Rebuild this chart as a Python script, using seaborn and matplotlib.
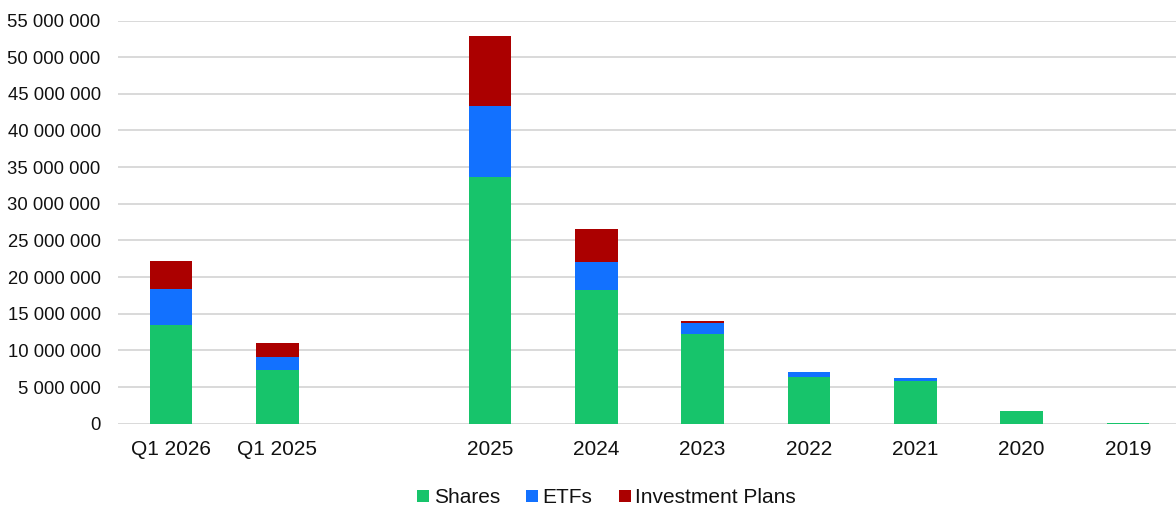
import matplotlib
matplotlib.use("Agg")
import matplotlib.pyplot as plt
from matplotlib.lines import Line2D
from matplotlib.ticker import FuncFormatter
import numpy as np
import pandas as pd
import seaborn as sns

# Periods (the blank entry separates the quarterly and yearly groups)
periods = ["Q1 2026", "Q1 2025", "", "2025", "2024", "2023", "2022", "2021", "2020", "2019"]
shares = [13.42e6, 7.28e6, 0, 33.66e6, 18.2e6, 12.24e6, 6.37e6, 5.87e6, 1.69e6, 0.1e6]
etfs = [4.91e6, 1.77e6, 0, 9.68e6, 3.86e6, 1.54e6, 0.68e6, 0.36e6, 0.0, 0.0]
plans = [3.91e6, 1.95e6, 0, 9.56e6, 4.5e6, 0.23e6, 0.0, 0.0, 0.0, 0.0]

series_names = ["Shares", "ETFs", "Investment Plans"]
colors = {"Shares": "#17C46B", "ETFs": "#1271FF", "Investment Plans": "#AB0000"}

df = pd.DataFrame({"period": periods, "Shares": shares, "ETFs": etfs,
                   "Investment Plans": plans})
df["top_shares"] = df["Shares"]
df["top_etfs"] = df["Shares"] + df["ETFs"]
df["top_plans"] = df["top_etfs"] + df["Investment Plans"]

sns.set_theme(style="white")
plt.rcParams["font.family"] = ["Liberation Sans", "DejaVu Sans"]

W, H = 1176, 509
fig = plt.figure(figsize=(W / 100, H / 100), dpi=100)
left, right, bottom, top = 118, 1181, 85.3, 488.5
ax = fig.add_axes([left / W, bottom / H, (right - left) / W, (top - bottom) / H])

# Stacked bars: draw cumulative totals from the tallest layer down
for col, name in [("top_plans", "Investment Plans"), ("top_etfs", "ETFs"),
                  ("top_shares", "Shares")]:
    sns.barplot(data=df, x="period", y=col, order=periods, color=colors[name],
                width=0.4, linewidth=0, saturation=1, errorbar=None, ax=ax,
                zorder=3)

text_color = "#111111"
ax.set_ylim(0, 55e6)
ax.set_xlim(-0.5, len(periods) - 0.5)
ax.set_yticks(np.arange(0, 55e6 + 1, 5e6))
ax.yaxis.set_major_formatter(FuncFormatter(lambda v, p: f"{int(v):,}".replace(",", " ")))
ax.yaxis.grid(True, color="#D9D9D9", linewidth=1.4, zorder=0)
ax.set_axisbelow(True)
for s in ax.spines.values():
    s.set_visible(False)
ax.set_xlabel("")
ax.set_ylabel("")
ax.tick_params(axis="y", length=0, pad=12.5, labelsize=13.3, colors=text_color)
ax.tick_params(axis="x", length=0, pad=12, labelsize=15, colors=text_color)

handles = [Line2D([0], [0], marker="s", linestyle="", markersize=8.5,
                  markerfacecolor=colors[n], markeredgewidth=0) for n in series_names]
fig.legend(handles, series_names, loc="center", ncol=3,
           bbox_to_anchor=(605 / W, 1 - 497.5 / H), frameon=False,
           fontsize=15, handletextpad=0.05, columnspacing=1.1,
           handlelength=0.9, labelcolor=text_color)

fig.savefig("out.png", dpi=100, facecolor="white")
